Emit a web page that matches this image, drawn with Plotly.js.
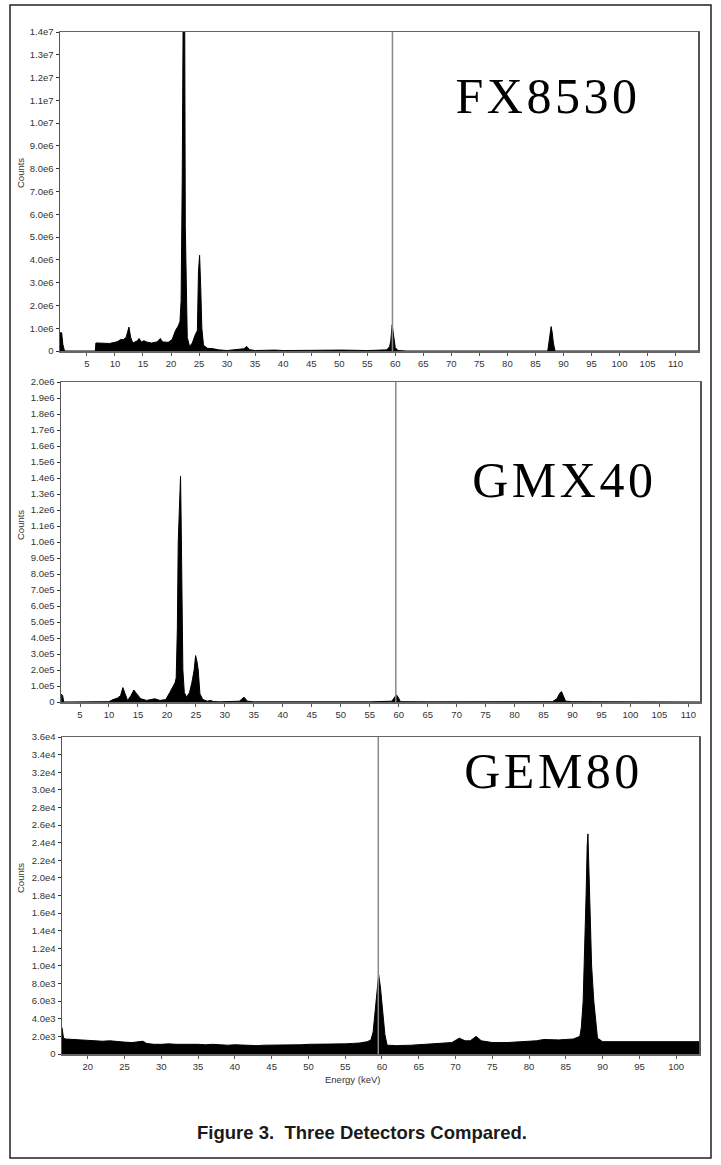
<!DOCTYPE html>
<html>
<head>
<meta charset="utf-8">
<script src="https://cdn.plot.ly/plotly-3.0.1.min.js"></script>
<style>
  html, body { margin: 0; padding: 0; background: #fff; }
  #chart { width: 721px; height: 1165px; }
  g.annotation[data-index="0"] text,
  g.annotation[data-index="1"] text,
  g.annotation[data-index="2"] text { letter-spacing: 3.5px; }
</style>
</head>
<body>
<div id="chart"></div>
<script>
// ---------------- DATA ----------------
const detectorNames = ["FX8530", "GMX40", "GEM80"];
const cursorEnergy = 59.5;   // keV, grey cursor line

// FX8530 spectrum: energy (keV) and counts
const fxEnergy = [0.2, 0.5, 0.7, 1.0, 6.5, 6.6, 7, 8, 9, 10, 10.5, 11, 11.5, 12, 12.3, 12.5, 12.8, 13.2, 14, 14.3, 14.7,
  15.2, 15.6, 16.5, 17.5, 18.1, 18.5, 19.5, 20.2, 20.8, 21.3, 21.6, 21.8, 21.9, 22.0, 22.15, 22.45, 22.55, 22.7, 22.9,
  23.3, 23.8, 24.3, 24.7, 24.9, 25.1, 25.3, 25.5, 25.8, 26.5, 27.5, 28.5, 30, 32, 33, 33.5, 34, 35, 37, 38.5, 40,
  44.5, 50.5, 55, 58.5, 59.0, 59.2, 59.45, 59.7, 60.0, 60.5, 62, 87.2, 87.4, 87.6, 87.8, 88.0, 88.2, 88.5, 114];
const fxCounts = [0.8e6, 0.8e6, 0.3e6, 0, 0, 0.35e6, 0.35e6, 0.34e6, 0.33e6, 0.38e6, 0.42e6, 0.5e6, 0.5e6, 0.6e6, 0.95e6,
  1.05e6, 0.6e6, 0.35e6, 0.45e6, 0.55e6, 0.4e6, 0.45e6, 0.4e6, 0.35e6, 0.4e6, 0.55e6, 0.4e6, 0.38e6, 0.5e6, 0.9e6,
  1.1e6, 1.3e6, 2.2e6, 4.0e6, 7.5e6, 1.4e7, 1.4e7, 5.5e6, 2.2e6, 0.6e6, 0.2e6, 0.35e6, 0.7e6, 0.9e6, 3.5e6, 4.2e6,
  2.8e6, 1.0e6, 0.25e6, 0.12e6, 0.1e6, 0.05e6, 0.02e6, 0.06e6, 0.1e6, 0.2e6, 0.06e6, 0.02e6, 0.05e6, 0.04e6, 0.02e6,
  0.04e6, 0.04e6, 0.02e6, 0.05e6, 0.2e6, 0.45e6, 1.15e6, 0.7e6, 0.15e6, 0.02e6, 0, 0, 0.3e6, 0.8e6, 1.07e6, 0.8e6,
  0.35e6, 0, 0];

// GMX40 spectrum
const gmxEnergy = [1.75, 2.0, 2.2, 6.5, 7, 10, 10.7, 11.5, 12.0, 12.4, 12.8, 13.2, 13.8, 14.3, 14.8, 15.5, 16.5, 17.9,
  18.8, 19.8, 20.5, 21.0, 21.4, 21.6, 21.7, 21.8, 21.95, 22.15, 22.25, 22.35, 22.45, 22.6, 22.75, 23.0, 23.4, 23.9,
  24.3, 24.7, 24.95, 25.2, 25.4, 25.7, 26.2, 27.0, 27.5, 28.0, 29, 32.5, 33.3, 33.9, 35, 37, 40, 50, 55, 58.8, 59.3,
  59.6, 59.9, 60.3, 65, 75, 86.5, 87.3, 87.8, 88.1, 88.4, 88.8, 90, 94, 95, 112];
const gmxCounts = [0.5e5, 0.4e5, 0, 0, 0.01e5, 0.02e5, 0.15e5, 0.25e5, 0.4e5, 0.9e5, 0.5e5, 0.1e5, 0.4e5, 0.75e5, 0.5e5,
  0.2e5, 0.1e5, 0.2e5, 0.1e5, 0.15e5, 0.6e5, 0.9e5, 1.2e5, 1.5e5, 3.0e5, 4.6e5, 10e5, 12e5, 14.1e5, 14.1e5, 11.5e5,
  4e5, 2e5, 0.6e5, 0.3e5, 0.6e5, 1.2e5, 2.0e5, 2.9e5, 2.5e5, 2.0e5, 0.5e5, 0.15e5, 0.05e5, 0.1e5, 0.03e5, 0.01e5,
  0.05e5, 0.3e5, 0.05e5, 0.01e5, 0.01e5, 0.005e5, 0.01e5, 0.01e5, 0.05e5, 0.3e5, 0.45e5, 0.3e5, 0.02e5, 0.01e5,
  0.01e5, 0.02e5, 0.2e5, 0.55e5, 0.65e5, 0.35e5, 0.05e5, 0.02e5, 0.01e5, 0, 0];

// GEM80 spectrum
const gemEnergy = [16.5, 16.7, 17, 18, 19, 20, 21, 22, 23, 24, 25, 26, 27, 27.5, 28, 29, 30, 31, 32, 33, 34, 35, 36, 37,
  38, 39, 40, 41, 42, 43, 44, 45, 46, 47, 48, 49, 50, 51, 52, 53, 54, 55, 56, 57, 58, 58.5, 58.8, 59.1, 59.35, 59.55,
  59.8, 60.1, 60.4, 60.7, 62, 64, 66, 68, 69.5, 70.5, 71.3, 72, 72.8, 73.5, 75, 77, 79, 81, 82, 83, 84, 85, 86,
  86.9, 87.1, 87.35, 87.6, 87.75, 87.9, 88.0, 88.1, 88.3, 88.5, 88.8, 89.1, 89.3, 90, 92, 94, 96, 98, 100, 102, 103.1];
const gemCounts = [3.0e3, 1.8e3, 1.7e3, 1.65e3, 1.55e3, 1.55e3, 1.5e3, 1.45e3, 1.5e3, 1.4e3, 1.35e3, 1.3e3, 1.35e3,
  1.45e3, 1.2e3, 1.1e3, 1.1e3, 1.15e3, 1.1e3, 1.1e3, 1.15e3, 1.1e3, 1.05e3, 1.1e3, 1.05e3, 1.0e3, 1.05e3, 1.0e3,
  1.0e3, 0.95e3, 1.0e3, 1.0e3, 1.05e3, 1.0e3, 1.0e3, 1.05e3, 1.1e3, 1.1e3, 1.15e3, 1.1e3, 1.15e3, 1.15e3, 1.2e3,
  1.25e3, 1.4e3, 1.6e3, 2.5e3, 5.5e3, 8.0e3, 9.0e3, 7.5e3, 5.0e3, 2.2e3, 1.0e3, 0.95e3, 1.0e3, 1.1e3, 1.2e3, 1.3e3,
  1.8e3, 1.5e3, 1.5e3, 2.0e3, 1.5e3, 1.3e3, 1.3e3, 1.4e3, 1.5e3, 1.65e3, 1.6e3, 1.6e3, 1.65e3, 1.7e3, 2.0e3, 3.0e3,
  6e3, 12e3, 18e3, 23.7e3, 25e3, 22e3, 17e3, 10e3, 6e3, 3e3, 1.8e3, 1.4e3, 1.4e3, 1.45e3, 1.4e3, 1.4e3, 1.45e3,
  1.4e3, 1.4e3];

// Tick values / labels
const xTicksWide = [5, 10, 15, 20, 25, 30, 35, 40, 45, 50, 55, 60, 65, 70, 75, 80, 85, 90, 95, 100, 105, 110];
const xTicksGem = [20, 25, 30, 35, 40, 45, 50, 55, 60, 65, 70, 75, 80, 85, 90, 95, 100];
const fxYTickVals = [0, 1e6, 2e6, 3e6, 4e6, 5e6, 6e6, 7e6, 8e6, 9e6, 1e7, 1.1e7, 1.2e7, 1.3e7, 1.4e7];
const fxYTickText = ["0", "1.0e6", "2.0e6", "3.0e6", "4.0e6", "5.0e6", "6.0e6", "7.0e6", "8.0e6", "9.0e6",
  "1.0e7", "1.1e7", "1.2e7", "1.3e7", "1.4e7"];
const gmxYTickVals = [0, 1e5, 2e5, 3e5, 4e5, 5e5, 6e5, 7e5, 8e5, 9e5, 1.0e6, 1.1e6, 1.2e6, 1.3e6, 1.4e6, 1.5e6,
  1.6e6, 1.7e6, 1.8e6, 1.9e6, 2.0e6];
const gmxYTickText = ["0", "1.0e5", "2.0e5", "3.0e5", "4.0e5", "5.0e5", "6.0e5", "7.0e5", "8.0e5", "9.0e5",
  "1.0e6", "1.1e6", "1.2e6", "1.3e6", "1.4e6", "1.5e6", "1.6e6", "1.7e6", "1.8e6", "1.9e6", "2.0e6"];
const gemYTickVals = [0, 2e3, 4e3, 6e3, 8e3, 1.0e4, 1.2e4, 1.4e4, 1.6e4, 1.8e4, 2.0e4, 2.2e4, 2.4e4, 2.6e4, 2.8e4,
  3.0e4, 3.2e4, 3.4e4, 3.6e4];
const gemYTickText = ["0", "2.0e3", "4.0e3", "6.0e3", "8.0e3", "1.0e4", "1.2e4", "1.4e4", "1.6e4", "1.8e4", "2.0e4",
  "2.2e4", "2.4e4", "2.6e4", "2.8e4", "3.0e4", "3.2e4", "3.4e4", "3.6e4"];

const yAxisTitle = "Counts";
const xAxisTitle = "Energy (keV)";
const captionText = "Figure 3.  Three Detectors Compared.";

// ---------------- LAYOUT HELPERS ----------------
const W = 721, H = 1165;
const px = v => v / W;
const py = v => 1 - v / H;

function spectrum(x, y, xa, ya) {
  return {
    type: "scatter", mode: "lines", x: x, y: y, xaxis: xa, yaxis: ya,
    line: { color: "#000", width: 1, shape: "linear" },
    fill: "tozeroy", fillcolor: "#000", hoverinfo: "skip", showlegend: false
  };
}

const traces = [
  spectrum(fxEnergy, fxCounts, "x", "y"),
  spectrum(gmxEnergy, gmxCounts, "x2", "y2"),
  spectrum(gemEnergy, gemCounts, "x3", "y3")
];

const tickFont = { family: "Liberation Sans, Arial, sans-serif", size: 9.5, color: "#333" };

function xAxis(domain, range, ticks, anchor) {
  return {
    domain: domain, range: range, anchor: anchor,
    tickmode: "array", tickvals: ticks, ticktext: ticks.map(String),
    ticks: "outside", ticklen: 3, tickcolor: "#555", tickwidth: 1,
    showline: true, mirror: true, linecolor: "#666", linewidth: 1.5,
    showgrid: false, zeroline: false, tickfont: tickFont, automargin: false
  };
}
function yAxis(domain, range, vals, text, anchor) {
  return {
    domain: domain, range: range, anchor: anchor,
    tickmode: "array", tickvals: vals, ticktext: text,
    ticks: "outside", ticklen: 3, tickcolor: "#333", tickwidth: 1,
    showline: true, mirror: true, linecolor: "#555", linewidth: 1.5,
    showgrid: false, zeroline: false, tickfont: tickFont, automargin: false
  };
}

const labelFont = { family: "Liberation Serif, Times New Roman, serif", size: 50, color: "#000" };
const smallFont = { family: "Liberation Sans, Arial, sans-serif", size: 9.5, color: "#333" };

const layout = {
  width: W, height: H,
  margin: { l: 0, r: 0, t: 0, b: 0 },
  paper_bgcolor: "#fff", plot_bgcolor: "#fff",
  showlegend: false,
  xaxis: xAxis([px(60), px(698)], [0.2, 114], xTicksWide, "y"),
  yaxis: yAxis([py(351), py(32)], [0, 1.4e7], fxYTickVals, fxYTickText, "x"),
  xaxis2: xAxis([px(61), px(700)], [1.72, 112], xTicksWide, "y2"),
  yaxis2: yAxis([py(702), py(382)], [0, 2.0e6], gmxYTickVals, gmxYTickText, "x2"),
  xaxis3: xAxis([px(62), px(699)], [16.5, 103.1], xTicksGem, "y3"),
  yaxis3: yAxis([py(1054), py(737)], [0, 3.6e4], gemYTickVals, gemYTickText, "x3"),
  shapes: [
    { type: "line", xref: "x", yref: "y domain", x0: cursorEnergy, x1: cursorEnergy, y0: 0, y1: 1,
      line: { color: "#8a8a8a", width: 1.5 }, layer: "above" },
    { type: "line", xref: "x2", yref: "y2 domain", x0: cursorEnergy, x1: cursorEnergy, y0: 0, y1: 1,
      line: { color: "#8a8a8a", width: 1.5 }, layer: "above" },
    { type: "line", xref: "x3", yref: "y3 domain", x0: cursorEnergy, x1: cursorEnergy, y0: 0, y1: 1,
      line: { color: "#8a8a8a", width: 1.5 }, layer: "above" },
    { type: "rect", xref: "paper", yref: "paper", x0: px(10), x1: px(711), y0: py(1158), y1: py(5),
      line: { color: "#222", width: 1.5 }, fillcolor: "rgba(0,0,0,0)", layer: "below" }
  ],
  annotations: [
    { text: detectorNames[0], xref: "paper", yref: "paper", x: px(548), y: py(96), xanchor: "center", yanchor: "middle",
      showarrow: false, font: labelFont },
    { text: detectorNames[1], xref: "paper", yref: "paper", x: px(564), y: py(480), xanchor: "center", yanchor: "middle",
      showarrow: false, font: labelFont },
    { text: detectorNames[2], xref: "paper", yref: "paper", x: px(553), y: py(771), xanchor: "center", yanchor: "middle",
      showarrow: false, font: labelFont },
    { text: yAxisTitle, xref: "paper", yref: "paper", x: px(20), y: py(173), textangle: -90,
      xanchor: "center", yanchor: "middle", showarrow: false, font: smallFont },
    { text: yAxisTitle, xref: "paper", yref: "paper", x: px(20), y: py(525), textangle: -90,
      xanchor: "center", yanchor: "middle", showarrow: false, font: smallFont },
    { text: yAxisTitle, xref: "paper", yref: "paper", x: px(20), y: py(878), textangle: -90,
      xanchor: "center", yanchor: "middle", showarrow: false, font: smallFont },
    { text: xAxisTitle, xref: "paper", yref: "paper", x: px(352), y: py(1079),
      xanchor: "center", yanchor: "middle", showarrow: false, font: smallFont },
    { text: "<b>" + captionText + "</b>", xref: "paper", yref: "paper", x: px(362), y: py(1132),
      xanchor: "center", yanchor: "middle", showarrow: false,
      font: { family: "Liberation Sans, Arial, sans-serif", size: 18.5, color: "#1a1a1a" } }
  ]
};

Plotly.newPlot("chart", traces, layout, { staticPlot: true, displayModeBar: false });
</script>
</body>
</html>
